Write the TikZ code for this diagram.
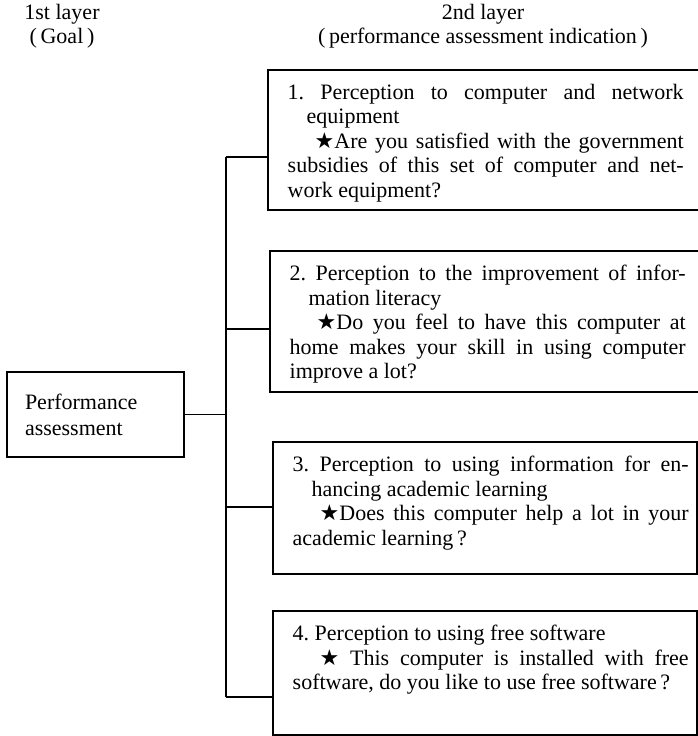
\documentclass[tikz,border=0pt]{standalone}
\usepackage{fontspec}
\setmainfont{Liberation Serif}
\newfontfamily\symfont{DejaVu Sans}
\newcommand{\bstar}{{\symfont ★}}
\begin{document}
\begin{tikzpicture}[x=1pt,y=-1pt,
  font=\fontsize{22}{24.5}\selectfont\frenchspacing,
  frame/.style={draw, line width=2.6pt, inner sep=0pt, outer sep=0pt, anchor=north west},
  conn/.style={line width=1.6pt},
  boxtext/.style={anchor=north west, inner sep=0pt, text width=396pt, align=justify},
  head/.style={inner sep=0pt, align=center}]
\useasboundingbox (0,0) rectangle (697,736);

% headers
\node[head] (h1) at (62,26) {1st layer\\(\,Goal\,)};
\node[head] (h2) at (483,26) {2nd layer\\(\,performance assessment indication\,)};

% goal box
\node[frame, anchor=center, minimum width=177pt, minimum height=85pt,
      text width=141pt, align=left, inner xsep=18pt,
      font=\fontsize{22}{26}\selectfont] (perf) at (95.5,414.5) {Performance\\assessment};

% indicator frames
\node[frame, minimum width=445pt, minimum height=140pt] (b1) at (268,70) {};
\node[frame, minimum width=445pt, minimum height=141pt] (b2) at (270,251) {};
\node[frame, minimum width=424pt, minimum height=132pt] (b3) at (273,442) {};
\node[frame, minimum width=424pt, minimum height=124pt] (b4) at (273,611) {};

% indicator texts
\node[boxtext] (t1) at ([shift={(19.5,14)}]b1.north west) {%
\noindent\hangindent=19pt\hangafter=1 1. Perception to computer and network\linebreak equipment\par
\noindent\hspace*{27pt}\bstar Are you satisfied with the government\linebreak subsidies of this set of computer and net-\linebreak work equipment?};

\node[boxtext] (t2) at ([shift={(19.5,14)}]b2.north west) {%
\noindent\hangindent=19pt\hangafter=1 2. Perception to the improvement of infor-\linebreak mation literacy\par
\noindent\hspace*{27pt}\bstar Do you feel to have this computer at\linebreak home makes your skill in using computer\linebreak improve a lot?};

\node[boxtext] (t3) at ([shift={(19.5,14)}]b3.north west) {%
\noindent\hangindent=19pt\hangafter=1 3. Perception to using information for en-\linebreak hancing academic learning\par
\noindent\hspace*{27pt}\bstar Does this computer help a lot in your\linebreak academic learning\,?};

\node[boxtext] (t4) at ([shift={(19.5,14)}]b4.north west) {%
\noindent 4. Perception to using free software\par
\noindent\hspace*{27pt}\bstar{} This computer is installed with free\linebreak software, do you like to use free software\,?};

% connectors
\coordinate (j1) at (226,157);
\coordinate (j2) at (226,329);
\coordinate (j3) at (226,507);
\coordinate (j4) at (226,697);
\draw[conn] (j1) -- (j4);
\draw[conn] (perf.east) -- (perf.east -| j1);
\draw[conn] (j1) -- (j1 -| b1.west);
\draw[conn] (j2) -- (j2 -| b2.west);
\draw[conn] (j3) -- (j3 -| b3.west);
\draw[conn] (j4) -- (j4 -| b4.west);
\end{tikzpicture}
\end{document}
